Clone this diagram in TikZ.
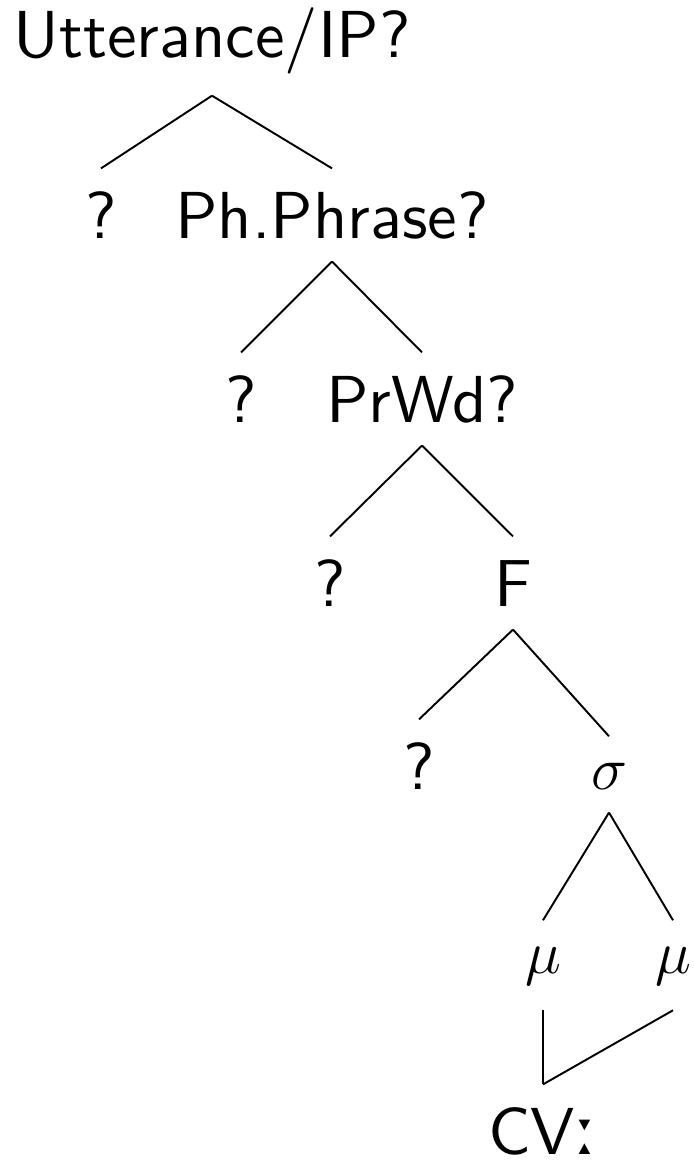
\documentclass[tikz,border=0pt]{standalone}
\usepackage{fontspec}
\setsansfont{lmsans10-regular.otf}
\newfontfamily\ipafont{DejaVu Sans}
\tikzset{
  lbl/.style={
    font=\sffamily\fontsize{18.9}{22}\selectfont,
    anchor=base,
    inner sep=0pt,
    outer xsep=0pt,
    outer ysep=6.7pt,
    text height=13.1pt,
    text depth=0pt
  },
  low/.style={text height=8.3pt},
  branch/.style={line width=.55pt}
}

\begin{document}
\begin{tikzpicture}[x=0.01cm,y=-0.01cm]
\useasboundingbox (0,0) rectangle (694,1160);
\node[lbl, text depth=4.3pt] (utt) at (212,57) {Utterance/IP?};
\node[lbl] (q1) at (101,238) {?};
\node[lbl] (pp) at (332,238) {Ph.Phrase?};
\node[lbl] (q2) at (241,422) {?};
\node[lbl] (pw) at (422,422) {PrWd?};
\node[lbl] (q3) at (330,606) {?};
\node[lbl] (ft) at (513,606) {F};
\node[lbl] (q4) at (419,789) {?};
\node[lbl, low] (syl) at (609,789) {$\sigma$};
\node[lbl, low, text depth=3.9pt] (mu1) at (543,973) {$\mu$};
\node[lbl, low, text depth=3.9pt] (mu2) at (673,973) {$\mu$};
\node[lbl] (cv) at (543,1154) {CV{\ipafont ː}};
\draw[branch] (utt.south) -- (q1.north);
\draw[branch] (utt.south) -- (pp.north);
\draw[branch] (pp.south) -- (q2.north);
\draw[branch] (pp.south) -- (pw.north);
\draw[branch] (pw.south) -- (q3.north);
\draw[branch] (pw.south) -- (ft.north);
\draw[branch] (ft.south) -- (q4.north);
\draw[branch] (ft.south) -- (syl.north);
\draw[branch] (syl.south) -- (mu1.north);
\draw[branch] (syl.south) -- (mu2.north);
\draw[branch] (mu1.south) -- (cv.north);
\draw[branch] (mu2.south) -- (cv.north);
\end{tikzpicture}
\end{document}
